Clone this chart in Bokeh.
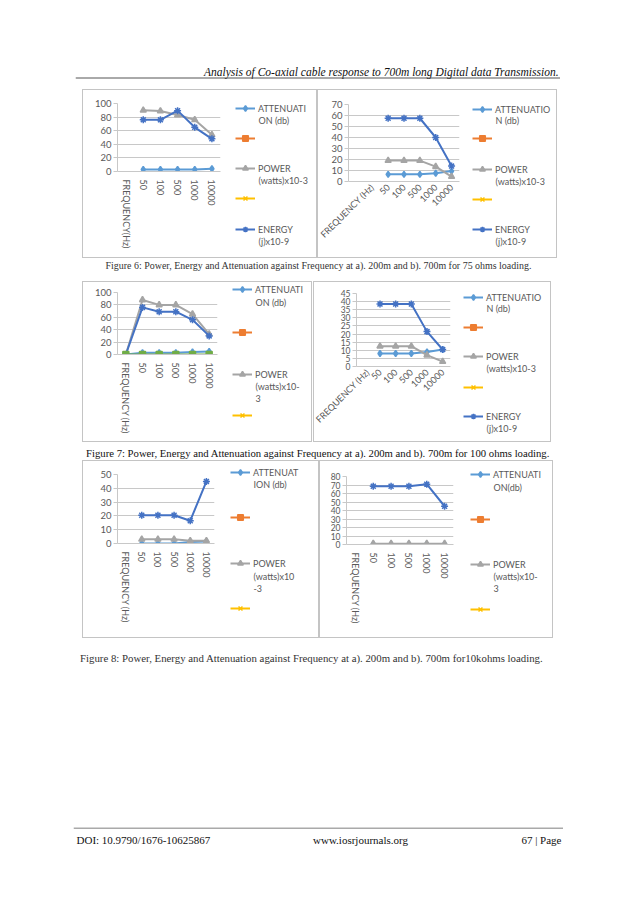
from math import pi
import numpy as np
from bokeh.plotting import figure
from bokeh.models import (ColumnDataSource, FactorRange, Range1d, SingleIntervalTicker,
                          Legend, LegendItem, Label, Span, Spacer)
from bokeh.layouts import column, row
from bokeh.embed import file_html
from bokeh.resources import INLINE

# ---------------- data ----------------
freqs = ["50", "100", "500", "1000", "10000"]

cats_6a = ["FREQUENCY(Hz)"] + freqs
att_6a = [3, 3, 3, 3, 4]
pow_6a = [90, 89, 83, 76, 54]
en_6a = [76, 76, 89.5, 65, 48]

cats_6b = [" ", "FREQUENCY (Hz)"] + freqs
att_6b = [6.5, 6.5, 6.5, 7.5, 9.5]
pow_6b = [19, 19, 19, 13.5, 4.5]
en_6b = [57.5, 57.5, 57.5, 40, 14]

cats_7a = ["FREQUENCY (Hz)"] + freqs
att_7a = [0, 3, 3, 3, 4, 5]
pow_7a = [0, 88, 80, 80, 65, 33]
en_7a = [0, 76, 69, 69, 56, 30]
s6_7a = [0, 0, 0, 0, 0, 0]

cats_7b = ["FREQUENCY (Hz)"] + freqs
att_7b = [8, 8, 8, 9, 10.5]
pow_7b = [12.5, 12.5, 12.5, 7, 3]
en_7b = [38.5, 38.5, 38.5, 21.5, 10.5]

cats_8a = ["FREQUENCY (Hz)"] + freqs
att_8a = [0, 0, 0, 1, 1.5]
pow_8a = [3, 3, 3, 2, 2]
en_8a = [20.5, 20.5, 20.5, 16.5, 45]

cats_8b = ["FREQUENCY (Hz)"] + freqs
att_8b = [0.5, 0.5, 0.5, 0.5, 0.5]
pow_8b = [1, 1, 1, 1, 1]
en_8b = [68.5, 68.5, 68.5, 71, 45]

yticks_6a = (100, 20)
yticks_6b = (70, 10)
yticks_7a = (100, 20)
yticks_7b = (45, 5)
yticks_8a = (50, 10)
yticks_8b = (80, 10)

leg_6a = [["ATTENUATI", "ON (db)"], [""], ["POWER", "(watts)x10-3"], [""], ["ENERGY", "(j)x10-9"]]
leg_6b = [["ATTENUATIO", "N (db)"], [""], ["POWER", "(watts)x10-3"], [""], ["ENERGY", "(j)x10-9"]]
leg_7a = [["ATTENUATI", "ON (db)"], [""], ["POWER", "(watts)x10-", "3"], [""]]
leg_7b = [["ATTENUATIO", "N (db)"], [""], ["POWER", "(watts)x10-3"], [""], ["ENERGY", "(j)x10-9"]]
leg_8a = [["ATTENUAT", "ION (db)"], [""], ["POWER", "(watts)x10", "-3"], [""]]
leg_8b = [["ATTENUATI", "ON(db)"], [""], ["POWER", "(watts)x10-", "3"], [""]]

header_text = "Analysis of Co-axial cable response to 700m long Digital data Transmission."
cap6 = "Figure 6: Power, Energy and Attenuation against Frequency at a). 200m and b).  700m for 75 ohms loading."
cap7 = "Figure 7: Power, Energy and Attenuation against Frequency at a). 200m and b). 700m for 100 ohms loading."
cap8 = "Figure 8: Power, Energy and Attenuation against Frequency at a). 200m and b).  700m for10kohms loading."
foot_left = "DOI: 10.9790/1676-10625867"
foot_mid = "www.iosrjournals.org"
foot_right = "67 | Page"

# ---------------- styles ----------------
FONT = "Lato"
SERIF = "Liberation Serif"
GRID = "#c8c8c8"
TXT = "#595959"
STY = {
    "att": dict(color="#5B9BD5", marker="diamond", size=6),
    "s2": dict(color="#ED7D31", marker="square", size=5),
    "pow": dict(color="#A5A5A5", marker="triangle", size=6),
    "s4": dict(color="#FFC000", marker="x", size=6),
    "en": dict(color="#4472C4", marker="asterisk", size=7),
    "s6": dict(color="#70AD47", marker="square", size=6),
}
ORDER = ["att", "s2", "pow", "s4", "en"]
FRAME_CSS = {"outline": "1px solid #c4c4c4", "outline-offset": "-1px"}
GH = 14  # legend glyph box height


def add_series(p, key, xs, ys):
    st = STY[key]
    src = ColumnDataSource(dict(x=xs, y=ys))
    ln = p.line("x", "y", source=src, line_color=st["color"], line_width=2)
    sc = p.scatter("x", "y", source=src, marker=st["marker"], size=st["size"],
                   line_color=st["color"], fill_color=st["color"], line_width=1.5)
    return [ln, sc]


def chart(cats, series, yt, orient, g, leg, ysize="9.5px"):
    figx, figy, w, h = g["fig"]
    fl, fr, ft, fb = g["frame"]
    gx = g["leg_x"]
    pw = gx - 4 - figx
    lw = w - pw
    p = figure(width=pw, height=h, x_range=FactorRange(*cats), y_range=Range1d(0, yt[0]),
               output_backend="svg", toolbar_location=None, frame_align=False,
               min_border_left=fl - figx, min_border_right=figx + pw - fr,
               min_border_top=ft - figy, min_border_bottom=figy + h - fb)
    p.border_fill_alpha = 0
    p.background_fill_alpha = 0
    p.outline_line_color = None
    p.xgrid.grid_line_color = None
    p.ygrid.grid_line_color = GRID
    p.ygrid.ticker = SingleIntervalTicker(interval=yt[1])
    p.yaxis.ticker = SingleIntervalTicker(interval=yt[1])
    for ax in (p.xaxis[0], p.yaxis[0]):
        ax.axis_line_color = GRID
        ax.major_tick_line_color = GRID
        ax.minor_tick_line_color = None
        ax.major_label_text_font = FONT
        ax.major_label_text_color = TXT
    p.yaxis.major_label_text_font_size = ysize
    p.xaxis.major_label_text_font_size = "9px"
    p.yaxis.major_tick_out = 4
    p.yaxis.major_tick_in = 0
    p.yaxis.major_label_standoff = 2
    p.xaxis.major_tick_out = 0
    p.xaxis.major_tick_in = 0
    p.xaxis.major_label_standoff = 8 if orient == "vertical" else 4
    p.xaxis.major_label_orientation = orient

    for key in ORDER + ["s6"]:
        vals = series.get(key)
        if vals is None:
            continue
        xs = cats if len(vals) == len(cats) else freqs
        add_series(p, key, xs, vals)

    # legend panel (own canvas so nothing is clipped)
    q = figure(width=lw, height=h, x_range=Range1d(0, lw), y_range=Range1d(h, 0),
               x_axis_location=None, y_axis_location=None, output_backend="svg",
               toolbar_location=None, min_border=0, frame_align=False)
    q.grid.visible = False
    q.outline_line_color = None
    q.border_fill_alpha = 0
    q.background_fill_alpha = 0
    for key, lines, ys in zip(ORDER, leg, g["leg_y"]):
        # legend-key renderers: carry no drawable point (NaN), only their style
        rends = add_series(q, key, np.array([np.nan]), np.array([np.nan]))
        item = LegendItem(label=lines[0], renderers=rends)
        lg = Legend(items=[item], location=(4, h - (ys[0] - figy + GH / 2)),
                    padding=0, margin=0, spacing=0, border_line_alpha=0,
                    background_fill_alpha=0, glyph_width=20, glyph_height=GH,
                    label_height=GH, label_standoff=3,
                    label_text_font=FONT, label_text_font_size="9px",
                    label_text_color=TXT)
        q.add_layout(lg, "center")
        for txt, yy in zip(lines[1:], ys[1:]):
            q.add_layout(Label(x=27, y=yy - figy, text=txt, text_font=FONT,
                               text_font_size="9px", text_color=TXT,
                               text_baseline="middle"))
    return row(p, q, styles=FRAME_CSS)


def text_fig(w, h):
    p = figure(width=w, height=h, x_range=Range1d(0, w), y_range=Range1d(h, 0),
               x_axis_location=None, y_axis_location=None, output_backend="svg",
               toolbar_location=None, min_border=0, frame_align=False)
    p.grid.visible = False
    p.outline_line_color = None
    p.border_fill_alpha = 0
    p.background_fill_alpha = 0
    return p


def put(p, x, y, text, size, align="left", base="middle", style="normal", color="#222222", font=SERIF):
    p.add_layout(Label(x=x, y=y, text=text, text_font=font, text_font_size=size,
                       text_align=align, text_baseline=base, text_font_style=style,
                       text_color=color))


# ---------------- geometry (page pixels) ----------------
G6a = dict(fig=(82, 89, 235, 169), frame=(117, 220, 103, 171), leg_x=235,
           leg_y=[(108, 120), (138,), (168, 180), (198,), (229, 241)])
G6b = dict(fig=(317, 89, 240, 169), frame=(348, 459, 104, 181), leg_x=472,
           leg_y=[(109, 120), (138,), (169, 181), (199,), (229, 241)])
G7a = dict(fig=(82, 281, 230, 161), frame=(117, 217, 292, 354), leg_x=232,
           leg_y=[(289, 302), (332,), (374, 386, 398), (415,)])
G7b = dict(fig=(313, 281, 238, 161), frame=(356, 450, 293, 366), leg_x=463,
           leg_y=[(297, 308), (327,), (356, 368), (387,), (416, 428)])
G8a = dict(fig=(82, 460, 237, 178), frame=(117, 214, 474, 543), leg_x=230,
           leg_y=[(472, 484), (517,), (563, 576, 588), (608,)])
G8b = dict(fig=(319, 460, 234, 178), frame=(346, 453, 476, 544), leg_x=470,
           leg_y=[(474, 487), (519,), (564, 576, 588), (609,)])

pA = chart(cats_6a, dict(att=att_6a, pow=pow_6a, en=en_6a), yticks_6a, "vertical", G6a, leg_6a)
pB = chart(cats_6b, dict(att=att_6b, pow=pow_6b, en=en_6b), yticks_6b, pi / 4, G6b, leg_6b)
pC = chart(cats_7a, dict(att=att_7a, pow=pow_7a, en=en_7a, s6=s6_7a), yticks_7a, "vertical", G7a, leg_7a)
pD = chart(cats_7b, dict(att=att_7b, pow=pow_7b, en=en_7b), yticks_7b, pi / 4, G7b, leg_7b, ysize="8.5px")
pE = chart(cats_8a, dict(att=att_8a, pow=pow_8a, en=en_8a), yticks_8a, "vertical", G8a, leg_8a)
pF = chart(cats_8b, dict(att=att_8b, pow=pow_8b, en=en_8b), yticks_8b, "vertical", G8b, leg_8b, ysize="8.5px")

# header (page y 8..80, rule at 77.5)
hdr = text_fig(485, 72)
put(hdr, 483, 63, header_text, "11.5px", align="right", base="alphabetic", style="italic", color="#111111")
hdr.add_layout(Span(location=69.5, dimension="width", line_color="#555555", line_width=1))

c6 = text_fig(630, 23)
put(c6, 319.5, 7, cap6, "9.95px", align="center", color="#333333")
c7 = text_fig(630, 18)
put(c7, 317.5, 10, cap7, "10.7px", align="center", color="#111111")
c8 = text_fig(630, 189)
put(c8, 312.5, 19, cap8, "10.8px", align="center", color="#333333")

ft = text_fig(490, 30)
ft.add_layout(Span(location=0.5, dimension="width", line_color="#555555", line_width=1))
put(ft, 3, 12, foot_left, "11px", color="#111111")
put(ft, 287, 12, foot_mid, "11px", align="center", color="#111111")
put(ft, 488, 12, foot_right, "11px", align="right", color="#111111")

page = column(
    Spacer(width=10, height=8),
    row(Spacer(width=75, height=72), hdr),
    Spacer(width=10, height=9),
    row(Spacer(width=82, height=169), pA, pB),
    c6,
    row(Spacer(width=82, height=161), pC, Spacer(width=1, height=161), pD),
    c7,
    row(Spacer(width=82, height=178), pE, pF),
    c8,
    row(Spacer(width=73, height=30), ft),
)

open("out.html", "w").write(file_html(page, INLINE))
